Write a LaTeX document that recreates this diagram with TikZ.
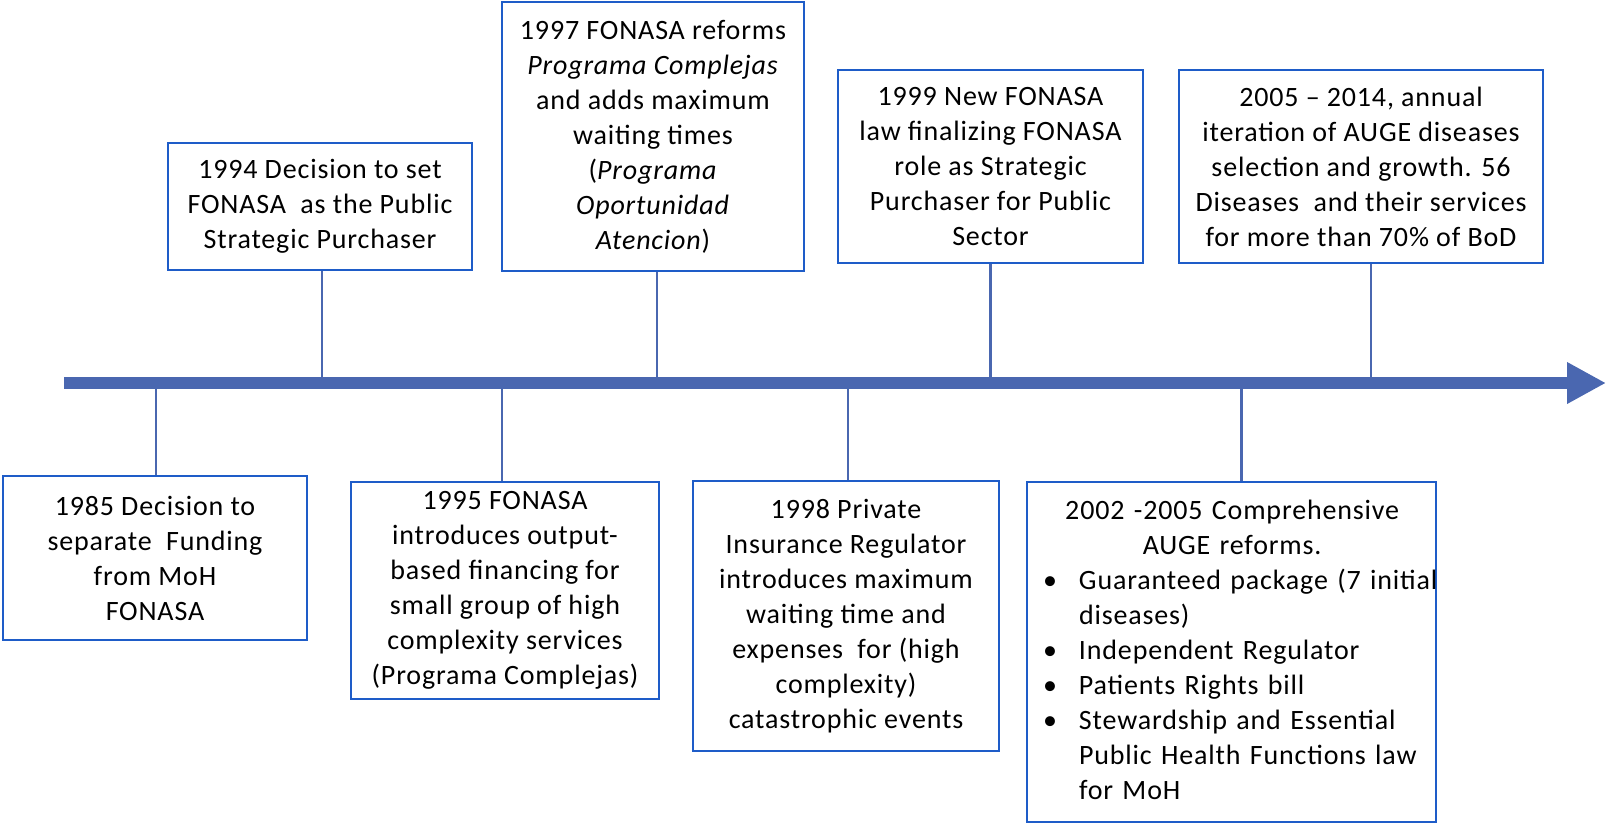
\documentclass[tikz,border=0pt]{standalone}
\usepackage{fontspec}
\setmainfont{Carlito}[LetterSpace=3]
\usetikzlibrary{arrows.meta}
\definecolor{lineblue}{HTML}{4A67B0}
\definecolor{boxblue}{HTML}{1E5CC8}
\begin{document}
\begin{tikzpicture}[x=1pt,y=-1pt,
  box/.style={draw=boxblue, line width=2.4pt, align=center, inner sep=0pt,
    font=\fontsize{28}{35}\selectfont, text=black},
  tick/.style={draw=lineblue, line width=2.2pt}]
\useasboundingbox (0,0) rectangle (1606,824);
% timeline
\coordinate (tls) at (64,383);
\coordinate (tle) at (1606,383);
\coordinate (tl) at (0,383);
\draw[draw=lineblue, line width=12pt, -{Triangle[length=39pt,width=39pt]}] (tls) -- (tle);

\node[box, minimum width=304pt, minimum height=164pt] (b85) at (155,558)
  {1985 Decision to\\separate\ \ Funding\\from MoH\\FONASA};
\node[box, minimum width=304pt, minimum height=127pt] (b94) at (320,206.5)
  {1994 Decision to set\\FONASA\ \ as the Public\\Strategic Purchaser};
\node[box, minimum width=308pt, minimum height=217pt] (b95) at (505,590.5)
  {1995 FONASA\\introduces output-\\based financing for\\small group of high\\complexity services\\(Programa Complejas)};
\node[box, minimum width=302pt, minimum height=269pt] (b97) at (653,136.5)
  {1997 FONASA reforms\\\textit{Programa Complejas}\\and adds maximum\\waiting times\\(\textit{Programa}\\\textit{Oportunidad}\\\textit{Atencion})};
\node[box, minimum width=306pt, minimum height=270pt] (b98) at (846,616)
  {1998 Private\\Insurance Regulator\\introduces maximum\\waiting time and\\expenses\ \ for (high\\complexity)\\catastrophic events};
\node[box, minimum width=305pt, minimum height=193pt] (b99) at (990.5,166.5)
  {1999 New FONASA\\law finalizing FONASA\\role as Strategic\\Purchaser for Public\\Sector};
\node[box, minimum width=364pt, minimum height=193pt] (b05) at (1361,166.5)
  {2005 -- 2014, annual\\iteration of AUGE diseases\\selection and growth. 56\\Diseases\ \ and their services\\for more than 70\% of BoD};
\node[box, minimum width=409pt, minimum height=340pt, text width=409pt, align=left] (b02) at (1231.5,652)
  {\begin{tabular}{@{}p{52pt}@{}l@{}}
   \multicolumn{2}{c}{2002 -2005 Comprehensive}\\
   \multicolumn{2}{c}{AUGE reforms.}\\
   \hspace*{16pt}\textbullet & Guaranteed package (7 initial\\
   & diseases)\\
   \hspace*{16pt}\textbullet & Independent Regulator\\
   \hspace*{16pt}\textbullet & Patients Rights bill\\
   \hspace*{16pt}\textbullet & Stewardship and Essential\\
   & Public Health Functions law\\
   & for MoH
   \end{tabular}};

% connectors
\draw[tick] ([xshift=1pt]b85.north) -- ([xshift=1pt]b85.north |- tl);
\draw[tick] ([xshift=2pt]b94.south) -- ([xshift=2pt]b94.south |- tl);
\draw[tick] ([xshift=-3pt]b95.north) -- ([xshift=-3pt]b95.north |- tl);
\draw[tick] ([xshift=4pt]b97.south) -- ([xshift=4pt]b97.south |- tl);
\draw[tick] ([xshift=2pt]b98.north) -- ([xshift=2pt]b98.north |- tl);
\draw[tick] (b99.south) -- (b99.south |- tl);
\draw[tick] ([xshift=10pt]b05.south) -- ([xshift=10pt]b05.south |- tl);
\draw[tick] ([xshift=10pt]b02.north) -- ([xshift=10pt]b02.north |- tl);
\end{tikzpicture}
\end{document}
